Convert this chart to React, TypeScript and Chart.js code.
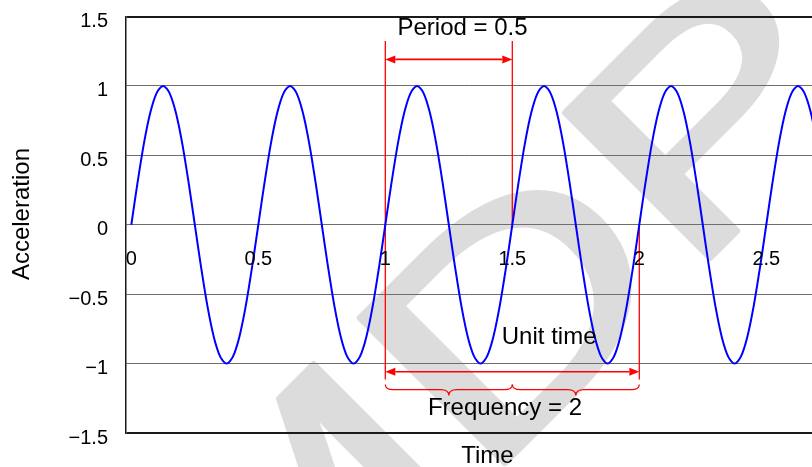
import React, { useEffect, useRef } from "react";
import { Chart, registerables } from "chart.js";

Chart.register(...registerables);

// Time samples (s)
const TIME = [
  0, 0.025, 0.05, 0.075, 0.1, 0.125, 0.15, 0.175, 0.2, 0.225,
  0.25, 0.275, 0.3, 0.325, 0.35, 0.375, 0.4, 0.425, 0.45, 0.475,
  0.5, 0.525, 0.55, 0.575, 0.6, 0.625, 0.65, 0.675, 0.7, 0.725,
  0.75, 0.775, 0.8, 0.825, 0.85, 0.875, 0.9, 0.925, 0.95, 0.975,
  1, 1.025, 1.05, 1.075, 1.1, 1.125, 1.15, 1.175, 1.2, 1.225,
  1.25, 1.275, 1.3, 1.325, 1.35, 1.375, 1.4, 1.425, 1.45, 1.475,
  1.5, 1.525, 1.55, 1.575, 1.6, 1.625, 1.65, 1.675, 1.7, 1.725,
  1.75, 1.775, 1.8, 1.825, 1.85, 1.875, 1.9, 1.925, 1.95, 1.975,
  2, 2.025, 2.05, 2.075, 2.1, 2.125, 2.15, 2.175, 2.2, 2.225,
  2.25, 2.275, 2.3, 2.325, 2.35, 2.375, 2.4, 2.425, 2.45, 2.475,
  2.5, 2.525, 2.55, 2.575, 2.6, 2.625, 2.65, 2.675, 2.7,
];

// Acceleration
const ACCEL = [
  0, 0.31, 0.59, 0.81, 0.95, 1, 0.95, 0.81, 0.59, 0.31,
  0, -0.31, -0.59, -0.81, -0.95, -1, -0.95, -0.81, -0.59, -0.31,
  0, 0.31, 0.59, 0.81, 0.95, 1, 0.95, 0.81, 0.59, 0.31,
  0, -0.31, -0.59, -0.81, -0.95, -1, -0.95, -0.81, -0.59, -0.31,
  0, 0.31, 0.59, 0.81, 0.95, 1, 0.95, 0.81, 0.59, 0.31,
  0, -0.31, -0.59, -0.81, -0.95, -1, -0.95, -0.81, -0.59, -0.31,
  0, 0.31, 0.59, 0.81, 0.95, 1, 0.95, 0.81, 0.59, 0.31,
  0, -0.31, -0.59, -0.81, -0.95, -1, -0.95, -0.81, -0.59, -0.31,
  0, 0.31, 0.59, 0.81, 0.95, 1, 0.95, 0.81, 0.59, 0.31,
  0, -0.31, -0.59, -0.81, -0.95, -1, -0.95, -0.81, -0.59, -0.31,
  0, 0.31, 0.59, 0.81, 0.95, 1, 0.95, 0.81, 0.59,
];

const X_TICKS = [0, 0.5, 1, 1.5, 2, 2.5];
const Y_TICKS = [-1.5, -1, -0.5, 0, 0.5, 1, 1.5];

// Annotations (data units)
const PERIOD_START = 1;
const PERIOD_END = 1.5;
const UNIT_START = 1;
const UNIT_END = 2;
const PERIOD_LABEL = "Period = 0.5";
const UNIT_LABEL = "Unit time";
const FREQ_LABEL = "Frequency = 2";
const WATERMARK = "MDPI";

const FONT = "'Liberation Sans', Arial, Helvetica, sans-serif";

function fmt(v: number) {
  return v < 0 ? "\u2212" + String(Math.abs(v)) : String(v);
}

const watermarkPlugin = {
  id: "wm",
  beforeDraw(chart: any) {
    const ctx = chart.ctx as CanvasRenderingContext2D;
    ctx.save();
    ctx.fillStyle = "#ffffff";
    ctx.fillRect(0, 0, chart.width, chart.height);
    ctx.translate(245.4, 723.4);
    ctx.rotate(-Math.PI / 4);
    ctx.scale(1.34, 1);
    ctx.font = `300px ${FONT}`;
    ctx.textAlign = "left";
    ctx.textBaseline = "alphabetic";
    ctx.fillStyle = "#dcdcdc";
    ctx.strokeStyle = "#dcdcdc";
    ctx.lineWidth = 5;
    ctx.lineJoin = "round";
    ctx.fillText(WATERMARK, 0, 0);
    ctx.strokeText(WATERMARK, 0, 0);
    ctx.restore();
  },
};

const annotationPlugin = {
  id: "annot",
  beforeDatasetsDraw(chart: any) {
    const ctx = chart.ctx as CanvasRenderingContext2D;
    const xs = chart.scales.x;
    const ys = chart.scales.y;
    const X = (v: number) => xs.getPixelForValue(v);
    const Y = (v: number) => ys.getPixelForValue(v);
    ctx.save();
    ctx.strokeStyle = "#ff0000";
    ctx.fillStyle = "#ff0000";
    ctx.lineWidth = 1.3;

    const vline = (x: number, y1: number, y2: number) => {
      ctx.beginPath();
      ctx.moveTo(X(x), Y(y1));
      ctx.lineTo(X(x), Y(y2));
      ctx.stroke();
    };
    vline(PERIOD_START, 1.323, -1.115);
    vline(PERIOD_END, 1.323, 0);
    vline(UNIT_END, 0, -1.115);

    const arrow = (x1: number, x2: number, yv: number) => {
      const px1 = X(x1), px2 = X(x2), py = Y(yv);
      const L = 10, H = 4;
      ctx.lineWidth = 1.6;
      ctx.beginPath();
      ctx.moveTo(px1 + L, py);
      ctx.lineTo(px2 - L, py);
      ctx.stroke();
      ctx.beginPath();
      ctx.moveTo(px1, py);
      ctx.lineTo(px1 + L, py - H);
      ctx.lineTo(px1 + L, py + H);
      ctx.closePath();
      ctx.fill();
      ctx.beginPath();
      ctx.moveTo(px2, py);
      ctx.lineTo(px2 - L, py - H);
      ctx.lineTo(px2 - L, py + H);
      ctx.closePath();
      ctx.fill();
    };
    arrow(PERIOD_START, PERIOD_END, 1.191);
    arrow(UNIT_START, UNIT_END, -1.059);

    const brace = (x1: number, x2: number) => {
      const a = X(x1), b = X(x2), m = (a + b) / 2;
      const yt = Y(-1.15), ym = Y(-1.187), yp = Y(-1.23);
      const r = 8;
      ctx.lineWidth = 1.2;
      ctx.beginPath();
      ctx.moveTo(a, yt);
      ctx.quadraticCurveTo(a, ym, a + r, ym);
      ctx.lineTo(m - r, ym);
      ctx.quadraticCurveTo(m, ym, m, yp);
      ctx.quadraticCurveTo(m, ym, m + r, ym);
      ctx.lineTo(b - r, ym);
      ctx.quadraticCurveTo(b, ym, b, yt);
      ctx.stroke();
    };
    brace(UNIT_START, (UNIT_START + UNIT_END) / 2);
    brace((UNIT_START + UNIT_END) / 2, UNIT_END);
    ctx.restore();
  },
  afterDraw(chart: any) {
    const ctx = chart.ctx as CanvasRenderingContext2D;
    const xs = chart.scales.x;
    const ys = chart.scales.y;
    const X = (v: number) => xs.getPixelForValue(v);
    const Y = (v: number) => ys.getPixelForValue(v);
    const area = chart.chartArea;
    ctx.save();
    ctx.fillStyle = "#000";
    ctx.font = `24px ${FONT}`;
    ctx.textAlign = "center";
    ctx.textBaseline = "middle";
    ctx.fillText(PERIOD_LABEL, X(1.304), Y(1.418));
    ctx.fillText(UNIT_LABEL, X(1.645), Y(-0.808));
    ctx.fillText(FREQ_LABEL, X(1.471), Y(-1.321));
    // axis titles
    ctx.fillText("Time", X(1.402), area.bottom + 23.8);
    ctx.save();
    ctx.translate(22.5, Y(0.077));
    ctx.rotate(-Math.PI / 2);
    ctx.fillText("Acceleration", 0, 0);
    ctx.restore();
    ctx.restore();
  },
};

export default function App() {
  const ref = useRef<HTMLCanvasElement | null>(null);
  useEffect(() => {
    if (!ref.current) return;
    const points = TIME.map((t, i) => ({ x: t, y: ACCEL[i] }));
    const chart = new Chart(ref.current, {
      type: "line",
      data: {
        datasets: [
          {
            data: points,
            borderColor: "#0000ff",
            borderWidth: 2,
            pointRadius: 0,
            tension: 0.3,
            fill: false,
          },
        ],
      },
      options: {
        responsive: false,
        animation: false,
        devicePixelRatio: 1,
        layout: { padding: { left: 0, right: 0, top: 16.5, bottom: 34 } },
        plugins: { legend: { display: false }, tooltip: { enabled: false } },
        scales: {
          x: {
            type: "linear",
            min: -0.021,
            max: 2.68,
            position: { y: 0 } as any,
            grid: { display: false, drawTicks: false },
            border: { display: false },
            afterBuildTicks: (s: any) => {
              s.ticks = X_TICKS.map((v) => ({ value: v }));
            },
            ticks: {
              z: 1,
              color: "#000",
              font: { family: FONT, size: 20 },
              padding: 23,
              maxRotation: 0,
              autoSkip: false,
              callback: (v: any) => fmt(Number(v)),
            },
          },
          y: {
            type: "linear",
            min: -1.5,
            max: 1.5,
            afterBuildTicks: (s: any) => {
              s.ticks = Y_TICKS.map((v) => ({ value: v }));
            },
            afterFit: (s: any) => {
              s.width = 126;
              s.paddingTop = 0;
              s.paddingBottom = 0;
            },
            grid: {
              drawTicks: false,
              color: (c: any) =>
                c.tick && Math.abs(c.tick.value) === 1.5 ? "#1a1a1a" : "#6e6e6e",
              lineWidth: (c: any) =>
                c.tick && Math.abs(c.tick.value) === 1.5 ? 2 : 1,
            },
            border: { display: true, color: "#1a1a1a", width: 1.5 },
            ticks: {
              color: "#000",
              font: { family: FONT, size: 20 },
              padding: 18,
              labelOffset: 5,
              callback: (v: any) => fmt(Number(v)),
            },
          },
        },
      },
      plugins: [watermarkPlugin, annotationPlugin],
    } as any);
    return () => chart.destroy();
  }, []);
  return (
    <div style={{ position: "absolute", left: 0, top: 0, width: 812, height: 467, background: "#fff" }}>
      <canvas ref={ref} width={812} height={467} style={{ width: 812, height: 467, display: "block" }} />
    </div>
  );
}
